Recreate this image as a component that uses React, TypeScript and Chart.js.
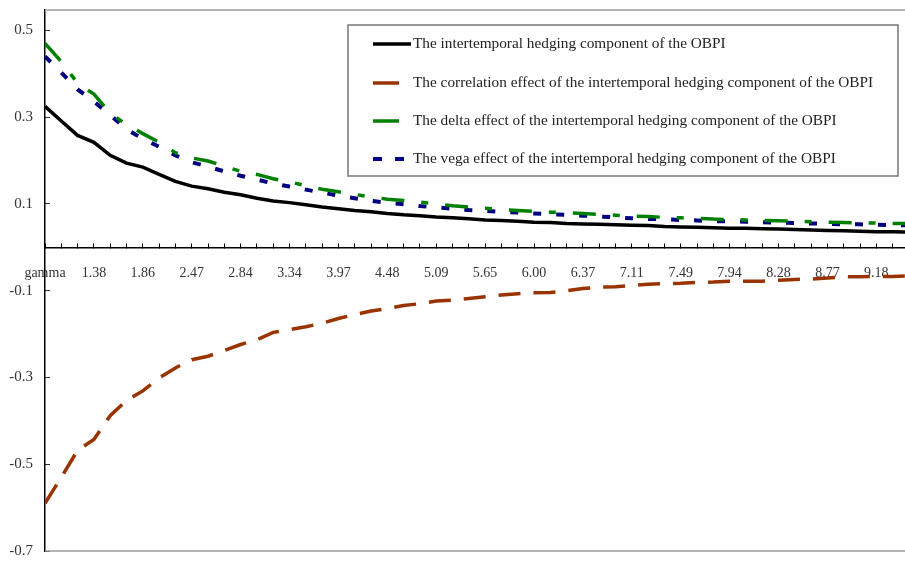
import React, { useEffect, useRef } from "react";
import { Chart, registerables } from "chart.js";

Chart.register(...registerables);

// Category tick labels (one label every third tick mark)
const tickLabels = [
  "gamma", "1.38", "1.86", "2.47", "2.84", "3.34", "3.97", "4.48", "5.09",
  "5.65", "6.00", "6.37", "7.11", "7.49", "7.94", "8.28", "8.77", "9.18",
];
const labelEvery = 3;
const tickCount = 53; // tick marks 0..52

const yTicks = [0.5, 0.3, 0.1, -0.1, -0.3, -0.5, -0.7];

const seriesNames = [
  "The intertemporal hedging component of the OBPI",
  "The correlation effect of the intertemporal hedging component of the OBPI",
  "The delta effect of the intertemporal hedging component of the OBPI",
  "The vega effect of the intertemporal hedging component of the OBPI",
];

// values sampled at every tick position
const hedging = [
  0.325, 0.291, 0.258, 0.242, 0.212, 0.194, 0.185, 0.168, 0.152, 0.141,
  0.135, 0.127, 0.121, 0.113, 0.107, 0.103, 0.098, 0.093, 0.089, 0.085,
  0.082, 0.078, 0.075, 0.073, 0.070, 0.068, 0.066, 0.063, 0.062, 0.060,
  0.058, 0.057, 0.055, 0.054, 0.053, 0.052, 0.051, 0.050, 0.048, 0.047,
  0.046, 0.045, 0.044, 0.044, 0.043, 0.042, 0.041, 0.040, 0.039, 0.038,
  0.037, 0.036, 0.036, 0.035,
];
const correlation = [
  -0.590, -0.530, -0.468, -0.443, -0.388, -0.353, -0.331, -0.301, -0.278, -0.259,
  -0.251, -0.238, -0.224, -0.213, -0.196, -0.190, -0.183, -0.175, -0.164, -0.155,
  -0.147, -0.141, -0.134, -0.130, -0.124, -0.122, -0.118, -0.114, -0.110, -0.107,
  -0.105, -0.104, -0.100, -0.095, -0.092, -0.091, -0.088, -0.085, -0.084, -0.083,
  -0.081, -0.080, -0.078, -0.078, -0.078, -0.076, -0.074, -0.073, -0.071, -0.068,
  -0.068, -0.067, -0.067, -0.066,
];
const delta = [
  0.470, 0.428, 0.378, 0.353, 0.309, 0.283, 0.262, 0.242, 0.218, 0.206,
  0.199, 0.187, 0.175, 0.168, 0.158, 0.151, 0.142, 0.134, 0.128, 0.122,
  0.116, 0.111, 0.108, 0.104, 0.100, 0.096, 0.093, 0.090, 0.087, 0.085,
  0.083, 0.081, 0.080, 0.078, 0.076, 0.074, 0.072, 0.071, 0.069, 0.068,
  0.067, 0.065, 0.064, 0.063, 0.062, 0.061, 0.060, 0.059, 0.058, 0.057,
  0.056, 0.056, 0.055, 0.055,
];
const vega = [
  0.440, 0.403, 0.364, 0.336, 0.305, 0.272, 0.250, 0.232, 0.212, 0.196,
  0.186, 0.175, 0.165, 0.156, 0.147, 0.140, 0.133, 0.126, 0.119, 0.113,
  0.107, 0.103, 0.099, 0.095, 0.092, 0.089, 0.086, 0.084, 0.082, 0.080,
  0.078, 0.076, 0.075, 0.073, 0.071, 0.069, 0.067, 0.065, 0.065, 0.063,
  0.062, 0.060, 0.060, 0.059, 0.058, 0.057, 0.056, 0.055, 0.054, 0.053,
  0.053, 0.052, 0.051, 0.051,
];

const FONT = "'Liberation Serif', 'Times New Roman', serif";

const toPoints = (arr: number[]) => arr.map((v, i) => ({ x: i, y: v }));

const framePlugin = {
  id: "frame",
  afterDraw(chart: any) {
    const { ctx, chartArea } = chart;
    ctx.save();
    ctx.strokeStyle = "#9a9a9a";
    ctx.lineWidth = 1.5;
    ctx.beginPath();
    ctx.moveTo(chartArea.left, chartArea.top);
    ctx.lineTo(chartArea.right, chartArea.top);
    ctx.moveTo(chartArea.left, chartArea.bottom);
    ctx.lineTo(chartArea.right, chartArea.bottom);
    ctx.stroke();
    ctx.restore();
  },
};

const boxLegendPlugin = {
  id: "boxLegend",
  afterDatasetsDraw(chart: any, _args: any, opts: any) {
    const { ctx } = chart;
    const { x, y, w, h, rowY, sampleX, sampleW, textX } = opts;
    ctx.save();
    ctx.fillStyle = "#fff";
    ctx.fillRect(x, y, w, h);
    ctx.strokeStyle = "#777";
    ctx.lineWidth = 1.5;
    ctx.strokeRect(x, y, w, h);
    chart.data.datasets.forEach((ds: any, i: number) => {
      const cy = rowY[i];
      ctx.beginPath();
      ctx.strokeStyle = ds.borderColor;
      ctx.lineWidth = ds.borderWidth;
      ctx.setLineDash(ds.legendDash || []);
      ctx.moveTo(sampleX, cy);
      ctx.lineTo(sampleX + sampleW[i], cy);
      ctx.stroke();
      ctx.setLineDash([]);
      ctx.fillStyle = "#222";
      ctx.font = `15.3px ${FONT}`;
      ctx.textBaseline = "middle";
      ctx.textAlign = "left";
      ctx.fillText(ds.label, textX, cy);
    });
    ctx.restore();
  },
};

export default function App() {
  const canvasRef = useRef<HTMLCanvasElement | null>(null);

  useEffect(() => {
    document.body.style.margin = "0";
    const canvas = canvasRef.current;
    if (!canvas) return;
    const chart = new Chart(canvas, {
      type: "line",
      data: {
        datasets: [
          {
            label: seriesNames[0],
            data: toPoints(hedging),
            borderColor: "#000000",
            borderWidth: 3.5,
            pointRadius: 0,
            tension: 0,
            legendDash: [],
          } as any,
          {
            label: seriesNames[1],
            data: toPoints(correlation),
            borderColor: "#993300",
            borderWidth: 3.5,
            borderDash: [22, 13],
            pointRadius: 0,
            tension: 0,
            legendDash: [],
          } as any,
          {
            label: seriesNames[2],
            data: toPoints(delta),
            borderColor: "#008000",
            borderWidth: 3.5,
            borderDash: [23, 17, 7, 17],
            pointRadius: 0,
            tension: 0,
            legendDash: [],
          } as any,
          {
            label: seriesNames[3],
            data: toPoints(vega),
            borderColor: "#000080",
            borderWidth: 4,
            borderDash: [8, 15],
            pointRadius: 0,
            tension: 0,
            legendDash: [9, 13],
          } as any,
        ],
      },
      options: {
        responsive: false,
        animation: false,
        devicePixelRatio: 1,
        layout: { padding: { left: 0, right: 0, top: 10, bottom: 10 } },
        plugins: {
          legend: { display: false },
          tooltip: { enabled: false },
          boxLegend: {
            x: 348,
            y: 25,
            w: 550,
            h: 151,
            rowY: [44, 83, 121, 159],
            sampleX: 373,
            sampleW: [38, 26, 26, 31],
            textX: 413,
          },
        } as any,
        scales: {
          x: {
            type: "linear",
            position: { y: 0 } as any,
            min: 0,
            max: 52.76,
            afterBuildTicks: (scale: any) => {
              scale.ticks = Array.from({ length: tickCount }, (_, k) => ({ value: k }));
            },
            afterFit: (scale: any) => {
              scale.paddingLeft = 0;
              scale.paddingRight = 0;
              scale.paddingTop = 0;
              scale.paddingBottom = 0;
            },
            grid: {
              display: true,
              drawOnChartArea: false,
              drawTicks: true,
              tickLength: -5,
              color: "#000",
              lineWidth: 1,
            },
            border: { display: true, color: "#000", width: 1.5 },
            ticks: {
              autoSkip: false,
              maxRotation: 0,
              minRotation: 0,
              padding: 23,
              color: "#333",
              font: { family: FONT, size: 14 },
              callback: (value: any) => {
                const k = Number(value);
                return k % labelEvery === 0 ? tickLabels[k / labelEvery] ?? "" : "";
              },
            },
          },
          y: {
            type: "linear",
            min: -0.7,
            max: 0.547,
            afterBuildTicks: (scale: any) => {
              scale.ticks = yTicks.map((v) => ({ value: v }));
            },
            afterFit: (scale: any) => {
              scale.width = 45;
              scale.paddingTop = 0;
              scale.paddingBottom = 0;
              scale.paddingLeft = 0;
              scale.paddingRight = 0;
            },
            grid: {
              display: true,
              drawOnChartArea: false,
              drawTicks: true,
              tickLength: -5,
              color: "#333",
            },
            border: { display: true, color: "#000", width: 1.5 },
            ticks: {
              padding: 17,
              color: "#333",
              font: { family: FONT, size: 15 },
              callback: (value: any) => String(Number(value)),
            },
          },
        },
      },
      plugins: [framePlugin, boxLegendPlugin],
    });
    return () => chart.destroy();
  }, []);

  return (
    <div style={{ position: "relative", width: 905, height: 561 }}>
      <canvas ref={canvasRef} width={905} height={561} />
    </div>
  );
}
